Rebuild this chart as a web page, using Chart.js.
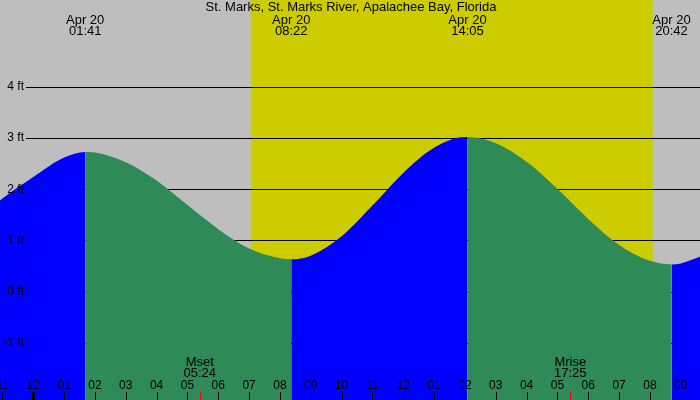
<!DOCTYPE html>
<html>
<head>
<meta charset="utf-8">
<script src="https://cdn.jsdelivr.net/npm/chart.js@4"></script>
<style>
    html, body { margin: 0; padding: 0; background: #bebebe; }
    canvas { display: block; }
</style>
</head>
<body>
<canvas id="chartMarea" width="700" height="400"></canvas>
<script>
// Datos de la marea (horas desde la medianoche del 20 de abril, nivel en pies)
const horasMarea = [-1.08, -1, 0, 1, 1.683, 2, 3, 4, 5, 6, 7, 8, 8.367, 9, 10, 11, 12, 13, 14, 14.083, 15, 16, 17, 18, 19, 20, 20.7, 21, 21.625];
const piesMarea = [1.78, 1.82, 2.24, 2.62, 2.73, 2.72, 2.53, 2.17, 1.69, 1.22, 0.84, 0.65, 0.63, 0.70, 1.08, 1.68, 2.32, 2.81, 3.02, 3.02, 2.90, 2.54, 2.01, 1.42, 0.91, 0.60, 0.53, 0.55, 0.68];

// Pleamares y bajamares
const horasExtremos = [1.683, 8.367, 14.083, 20.7];
const fechasExtremos = ['Apr 20', 'Apr 20', 'Apr 20', 'Apr 20'];
const textosExtremos = ['01:41', '08:22', '14:05', '20:42'];

// Sol (amanecer, atardecer) y luna
const horasSol = [7.05, 20.09];
const horasLuna = [5.4, 17.417];
const nombresLuna = ['Mset', 'Mrise'];
const textosLuna = ['05:24', '17:25'];

// Ejes
const nivelesPies = [-1, 0, 1, 2, 3, 4];
const etiquetasPies = ['-1 ft', '0 ft', '1 ft', '2 ft', '3 ft', '4 ft'];
const horasEje = [-1, 0, 1, 2, 3, 4, 5, 6, 7, 8, 9, 10, 11, 12, 13, 14, 15, 16, 17, 18, 19, 20, 21];
const etiquetasHoras = ['11', '12', '01', '02', '03', '04', '05', '06', '07', '08', '09', '10', '11', '12', '01', '02', '03', '04', '05', '06', '07', '08', '09'];

const titulo = 'St. Marks, St. Marks River, Apalachee Bay, Florida';

const colores = {
    noche: '#bebebe',
    dia: '#cccc00',
    sube: '#0000ff',
    baja: '#2e8b57',
    texto: '#000000',
    luna: '#ff0000'
};
const fuente = '12px "Liberation Sans", Arial, sans-serif';
const fuenteGrande = '13px "Liberation Sans", Arial, sans-serif';

const decorado = {
    id: 'decorado',
    beforeDatasetsDraw(chart) {
        const ctx = chart.ctx;
        const x = chart.scales.x, y = chart.scales.y;
        ctx.save();
        ctx.fillStyle = colores.noche;
        ctx.fillRect(0, 0, chart.width, chart.height);
        const x0 = x.getPixelForValue(horasSol[0]);
        const x1 = x.getPixelForValue(horasSol[1]);
        ctx.fillStyle = colores.dia;
        ctx.fillRect(x0, 0, x1 - x0, chart.height);
        // líneas de nivel
        ctx.strokeStyle = colores.texto;
        ctx.lineWidth = 1;
        nivelesPies.forEach(v => {
            const py = Math.round(y.getPixelForValue(v)) + 0.5;
            ctx.beginPath();
            ctx.moveTo(26, py);
            ctx.lineTo(chart.width, py);
            ctx.stroke();
        });
        ctx.restore();
    },
    afterDatasetsDraw(chart) {
        const ctx = chart.ctx;
        const x = chart.scales.x, y = chart.scales.y;
        ctx.save();
        ctx.font = fuente;
        ctx.fillStyle = colores.texto;

        // etiquetas del eje y
        ctx.textAlign = 'right';
        ctx.textBaseline = 'middle';
        nivelesPies.forEach((v, i) => {
            ctx.fillText(etiquetasPies[i], 24, y.getPixelForValue(v));
        });

        // título y extremos
        ctx.textAlign = 'center';
        ctx.font = fuenteGrande;
        ctx.fillText(titulo, 351, 7.5);
        horasExtremos.forEach((h, i) => {
            const px = x.getPixelForValue(h);
            ctx.fillText(fechasExtremos[i], px, 20);
            ctx.fillText(textosExtremos[i], px, 31.5);
        });

        // horas del eje x
        ctx.font = fuente;
        horasEje.forEach((h, i) => {
            const px = x.getPixelForValue(h);
            ctx.fillStyle = colores.texto;
            ctx.fillText(etiquetasHoras[i], px, 386);
            if (h === 0) {
                ctx.fillRect(Math.round(px) - 1, 392, 3, 8);
            } else {
                ctx.fillRect(Math.round(px), 392, 1, 8);
            }
        });

        // luna
        ctx.font = fuenteGrande;
        horasLuna.forEach((h, i) => {
            const px = x.getPixelForValue(h);
            ctx.fillStyle = colores.texto;
            ctx.fillText(nombresLuna[i], px, 362);
            ctx.fillText(textosLuna[i], px, 373.5);
            ctx.fillStyle = colores.luna;
            ctx.fillRect(Math.round(px), 392, 1, 8);
        });
        ctx.restore();
    }
};

const ctxMarea = document.getElementById('chartMarea');
new Chart(ctxMarea, {
    type: 'line',
    data: {
        datasets: [{
            data: horasMarea.map((h, i) => ({ x: h, y: piesMarea[i] })),
            fill: 'start',
            backgroundColor: colores.baja,
            borderColor: 'rgba(0,0,0,0)',
            borderWidth: 0,
            pointRadius: 0,
            cubicInterpolationMode: 'monotone',
            segment: {
                backgroundColor: c => c.p1.parsed.y >= c.p0.parsed.y ? colores.sube : colores.baja
            }
        }]
    },
    options: {
        responsive: false,
        animation: false,
        layout: { padding: 0 },
        plugins: {
            legend: { display: false },
            tooltip: { enabled: false }
        },
        scales: {
            x: { type: 'linear', display: false, min: -1.08, max: 21.625 },
            y: { display: false, min: -2.122, max: 5.702 }
        }
    },
    plugins: [decorado]
});
</script>
</body>
</html>
